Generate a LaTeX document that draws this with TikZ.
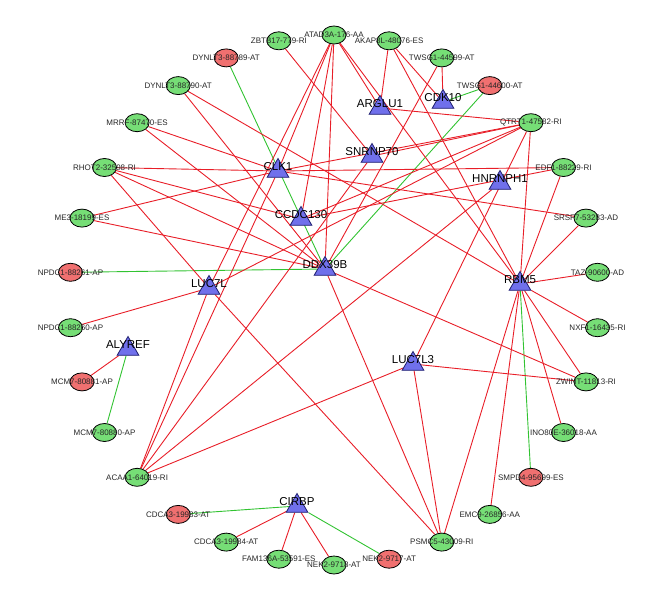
\documentclass[tikz,border=0pt]{standalone}
\usepackage{fontspec}
\setmainfont{Liberation Sans}
\usetikzlibrary{shapes.geometric,backgrounds}
\definecolor{er}{RGB}{232,30,40}
\definecolor{eg}{RGB}{50,195,50}
\definecolor{fg}{RGB}{118,222,118}
\definecolor{fr}{RGB}{240,112,112}
\definecolor{fb}{RGB}{112,112,235}
\definecolor{tb}{RGB}{30,30,110}
\tikzset{
 ev/.style={ellipse,draw=black,line width=0.8pt,minimum width=24pt,minimum height=18pt,inner sep=0pt},
 evg/.style={ev,fill=fg}, evr/.style={ev,fill=fr},
 tri/.style={regular polygon,regular polygon sides=3,minimum size=25pt,inner sep=0pt,draw=tb,line width=0.8pt,fill=fb},
 elab/.style={font=\fontsize{8}{9}\selectfont,text=black!85,inner sep=0pt},
 tlab/.style={font=\fontsize{11.5}{13}\selectfont,inner sep=0pt},
 re/.style={draw=er,line width=0.9pt},
 ge/.style={draw=eg,line width=0.9pt},
}
\begin{document}
\begin{tikzpicture}[x=1pt,y=-1pt]
\useasboundingbox (0,0) rectangle (659,602);
% ellipses
\node[evg] (e0) at (334,35) {};
\node[evg] (e1) at (389.1,40.8) {};
\node[evg] (e2) at (441.8,57.9) {};
\node[evr] (e3) at (489.8,85.6) {};
\node[evg] (e4) at (530.9,122.7) {};
\node[evg] (e5) at (563.5,167.5) {};
\node[evg] (e6) at (586.0,218.1) {};
\node[evg] (e7) at (597.5,272.3) {};
\node[evg] (e8) at (597.5,327.7) {};
\node[evg] (e9) at (586.0,381.9) {};
\node[evg] (e10) at (563.5,432.5) {};
\node[evr] (e11) at (530.9,477.3) {};
\node[evg] (e12) at (489.8,514.4) {};
\node[evg] (e13) at (441.8,542.1) {};
\node[evr] (e14) at (389.1,559.2) {};
\node[evg] (e15) at (334,565) {};
\node[evg] (e16) at (278.9,559.2) {};
\node[evg] (e17) at (226.2,542.1) {};
\node[evr] (e18) at (178.2,514.4) {};
\node[evg] (e19) at (137.1,477.3) {};
\node[evg] (e20) at (104.5,432.5) {};
\node[evr] (e21) at (82.0,381.9) {};
\node[evg] (e22) at (70.5,327.7) {};
\node[evr] (e23) at (70.5,272.3) {};
\node[evg] (e24) at (82.0,218.1) {};
\node[evg] (e25) at (104.5,167.5) {};
\node[evg] (e26) at (137.1,122.7) {};
\node[evg] (e27) at (178.2,85.6) {};
\node[evr] (e28) at (226.2,57.9) {};
\node[evg] (e29) at (278.9,40.8) {};
% triangles
\node[tri] (A) at (380,108) {};
\node[tri] (K) at (443,102) {};
\node[tri] (S) at (372,156) {};
\node[tri] (C) at (278,171) {};
\node[tri] (H) at (500,183) {};
\node[tri] (D) at (301,219) {};
\node[tri] (X) at (325,269) {};
\node[tri] (L) at (209,288) {};
\node[tri] (R) at (520,284) {};
\node[tri] (Y) at (128,349) {};
\node[tri] (L3) at (413,364) {};
\node[tri] (P) at (297,506) {};
\begin{scope}[on background layer]
% green
\draw[ge] (e28) -- (X);
\draw[ge] (e3) -- (K);
\draw[ge] (e3) -- (X);
\draw[ge] (e23) -- (X);
\draw[ge] (e20) -- (Y);
\draw[ge] (e11) -- (R);
\draw[ge] (e18) -- (P);
\draw[ge] (e14) -- (P);
% red
\draw[re] (e29) -- (S);
\draw[re] (e27) -- (X);
\draw[re] (e27) -- (R);
\draw[re] (e26) -- (C);
\draw[re] (e26) -- (X);
\draw[re] (e25) -- (C);
\draw[re] (e25) -- (L);
\draw[re] (e25) -- (X);
\draw[re] (e25) -- (D);
\draw[re] (e5) -- (C);
\draw[re] (e6) -- (C);
\draw[re] (e4) -- (C);
\draw[re] (e24) -- (C);
\draw[re] (e24) -- (X);
\draw[re] (e22) -- (L);
\draw[re] (e21) -- (Y);
\draw[re] (e19) -- (L);
\draw[re] (e19) -- (C);
\draw[re] (e19) -- (S);
\draw[re] (e19) -- (H);
\draw[re] (e19) -- (L3);
\draw[re] (e17) -- (P);
\draw[re] (e16) -- (P);
\draw[re] (e15) -- (P);
\draw[re] (e13) -- (R);
\draw[re] (e13) -- (L3);
\draw[re] (e13) -- (X);
\draw[re] (e13) -- (L);
\draw[re] (e12) -- (R);
\draw[re] (e10) -- (R);
\draw[re] (e9) -- (R);
\draw[re] (e9) -- (L3);
\draw[re] (e9) -- (X);
\draw[re] (e8) -- (R);
\draw[re] (e7) -- (R);
\draw[re] (e6) -- (R);
\draw[re] (e5) -- (R);
\draw[re] (e5) -- (D);
\draw[re] (e4) -- (R);
\draw[re] (e4) -- (S);
\draw[re] (e4) -- (D);
\draw[re] (e4) -- (L);
\draw[re] (e4) -- (A);
\draw[re] (e4) -- (L3);
\draw[re] (e0) -- (L);
\draw[re] (e0) -- (C);
\draw[re] (e0) -- (D);
\draw[re] (e0) -- (X);
\draw[re] (e0) -- (A);
\draw[re] (e0) -- (R);
\draw[re] (e1) -- (K);
\draw[re] (e1) -- (R);
\draw[re] (e1) -- (A);
\draw[re] (e2) -- (K);
\draw[re] (e2) -- (X);
\end{scope}
% labels
\node[elab] at (e0) {ATAD3A-176-AA};
\node[elab] at (e1) {AKAP8L-48076-ES};
\node[elab] at (e2) {TWSG1-44599-AT};
\node[elab] at (e3) {TWSG1-44600-AT};
\node[elab] at (e4) {QTRT1-47582-RI};
\node[elab] at (e5) {EDF1-88229-RI};
\node[elab] at (e6) {SRSF7-53283-AD};
\node[elab] at (e7) {TAZ-90600-AD};
\node[elab] at (e8) {NXF1-16435-RI};
\node[elab] at (e9) {ZWINT-11813-RI};
\node[elab] at (e10) {INO80E-36018-AA};
\node[elab] at (e11) {SMPD4-95699-ES};
\node[elab] at (e12) {EMC9-26856-AA};
\node[elab] at (e13) {PSMC5-43009-RI};
\node[elab] at (e14) {NEK2-9717-AT};
\node[elab] at (e15) {NEK2-9718-AT};
\node[elab] at (e16) {FAM136A-53591-ES};
\node[elab] at (e17) {CDCA3-19984-AT};
\node[elab] at (e18) {CDCA3-19983-AT};
\node[elab] at (e19) {ACAA1-64019-RI};
\node[elab] at (e20) {MCM7-80880-AP};
\node[elab] at (e21) {MCM7-80881-AP};
\node[elab] at (e22) {NPDC1-88260-AP};
\node[elab] at (e23) {NPDC1-88261-AP};
\node[elab] at (e24) {ME3-18199-ES};
\node[elab] at (e25) {RHOT2-32598-RI};
\node[elab] at (e26) {MRRF-87470-ES};
\node[elab] at (e27) {DYNLT3-88790-AT};
\node[elab] at (e28) {DYNLT3-88789-AT};
\node[elab] at (e29) {ZBTB17-779-RI};
\node[tlab] at (380,104) {ARGLU1};
\node[tlab] at (443,98) {CDK10};
\node[tlab] at (372,152) {SNRNP70};
\node[tlab] at (278,167) {CLK1};
\node[tlab] at (500,179) {HNRNPH1};
\node[tlab] at (301,215) {CCDC130};
\node[tlab] at (325,265) {DDX39B};
\node[tlab] at (209,284) {LUC7L};
\node[tlab] at (520,280) {RBM5};
\node[tlab] at (128,345) {ALYREF};
\node[tlab] at (413,360) {LUC7L3};
\node[tlab] at (297,502) {CIRBP};
\end{tikzpicture}
\end{document}
